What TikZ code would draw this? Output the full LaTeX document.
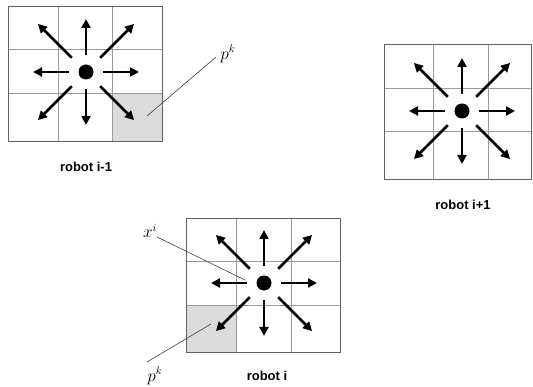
\documentclass[tikz,border=0pt]{standalone}
\usepackage{fontspec}
\setmainfont{Liberation Serif}
\setsansfont{Liberation Sans}
\usetikzlibrary{arrows.meta}
\definecolor{outerc}{gray}{0.38}
\definecolor{innerc}{gray}{0.6}
\definecolor{shadec}{gray}{0.86}
\tikzset{
  outerbox/.style={draw=outerc, line width=0.9pt},
  innerline/.style={draw=innerc, line width=0.6pt},
  shadecell/.style={fill=shadec},
  robotdot/.style={circle, fill=black, inner sep=0pt, minimum size=15pt},
  movearrow/.style={line width=2.5pt, -{Triangle[length=9pt,width=9pt]}},
  leader/.style={draw=black!75, line width=0.6pt},
  caption/.style={font=\sffamily\bfseries\fontsize{13}{15}\selectfont},
  mlabel/.style={font=\fontsize{16}{18}\selectfont, inner sep=0pt}
}
\newcommand{\robotstar}[1]{%
  \foreach \a in {0,90,180,270} {\draw[movearrow] (#1) ++(\a:17) -- ++(\a:36);}
  \foreach \a in {45,135,225,315} {\draw[movearrow] (#1) ++(\a:20) -- ++(\a:48);}
}
\begin{document}
\begin{tikzpicture}[x=1pt,y=-1pt]
\useasboundingbox (0,0) rectangle (533,387);
% ---- robot i-1 ----
\fill[shadecell] (112,93) rectangle (162,141);
\draw[innerline] (58,6) -- (58,141) (112,6) -- (112,141) (8,49) -- (162,49) (8,93) -- (162,93);
\draw[outerbox] (8,6) rectangle (162,141);
\node[robotdot] (r1) at (86,72) {};
\robotstar{r1}
\node[caption] (c1) at (86,167) {robot i-1};
\node[mlabel] (pk1) at (228,54) {$p^k$};
\coordinate (pk1s) at (216,57);
\coordinate (pk1t) at (147,116);
\draw[leader] (pk1s) -- (pk1t);
% ---- robot i+1 ----
\draw[innerline] (433,44) -- (433,179) (488,44) -- (488,179) (384,88) -- (531,88) (384,131) -- (531,131);
\draw[outerbox] (384,44) rectangle (531,179);
\node[robotdot] (r2) at (462,111) {};
\robotstar{r2}
\node[caption] (c2) at (463,205) {robot i+1};
% ---- robot i ----
\fill[shadecell] (186,305) rectangle (236,352);
\draw[innerline] (236,218) -- (236,352) (291,218) -- (291,352) (186,261) -- (340,261) (186,305) -- (340,305);
\draw[outerbox] (186,218) rectangle (340,352);
\node[robotdot] (r3) at (264,283) {};
\robotstar{r3}
\node[caption] (c3) at (267,376) {robot i};
\node[mlabel] (xi) at (150,231) {$x^i$};
\coordinate (xis) at (157,237);
\coordinate (xit) at (245,280);
\draw[leader] (xis) -- (xit);
\node[mlabel] (pk3) at (155,376) {$p^k$};
\coordinate (pk3s) at (147,362);
\coordinate (pk3t) at (211,324);
\draw[leader] (pk3s) -- (pk3t);
\end{tikzpicture}
\end{document}
